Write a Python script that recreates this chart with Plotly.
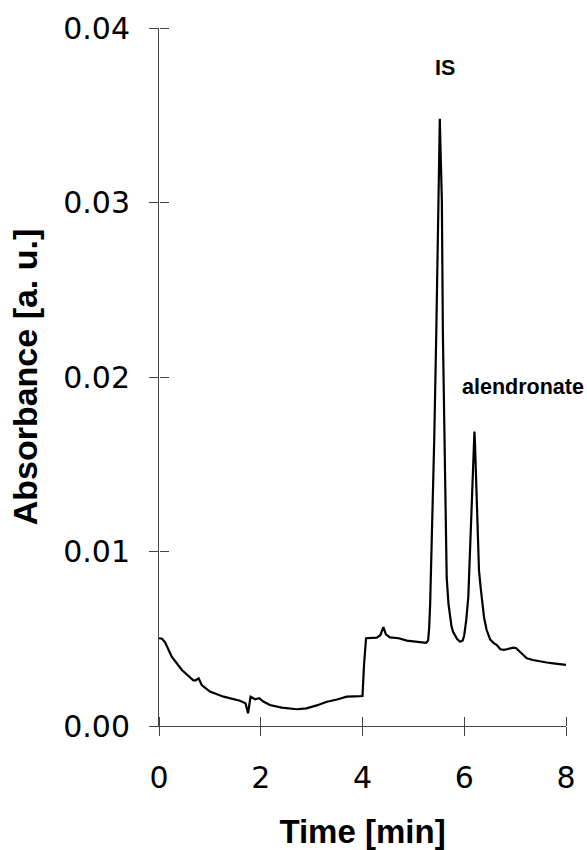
import plotly.graph_objects as go

# Chromatogram trace (time in min, absorbance in a.u.)
time_min = [0.00, 0.06, 0.12, 0.25, 0.45, 0.60, 0.675, 0.72, 0.78, 0.84, 1.00, 1.27, 1.59, 1.70,
            1.75, 1.80, 1.85, 1.89, 1.97, 2.05, 2.18, 2.41, 2.71, 2.90, 3.10, 3.30, 3.50, 3.69, 3.85, 4.00,
            4.03, 4.07, 4.28, 4.35, 4.41, 4.46, 4.54, 4.71, 4.87, 5.05, 5.25,
            5.29, 5.31, 5.33, 5.36, 5.41, 5.45, 5.49, 5.51, 5.52, 5.53, 5.56, 5.58, 5.61, 5.63, 5.655,
            5.69, 5.72, 5.75, 5.78, 5.82, 5.86, 5.92,
            5.97, 6.00, 6.04, 6.08, 6.13, 6.17, 6.19, 6.20, 6.21, 6.23, 6.26, 6.29, 6.32, 6.35, 6.39,
            6.44, 6.51, 6.58, 6.64, 6.71, 6.78, 6.84, 6.90,
            6.97, 7.02, 7.06, 7.14, 7.23, 7.35, 7.49, 7.62, 7.75, 7.88, 8.00]
absorbance = [0.00503, 0.00500, 0.00480, 0.00397, 0.00321, 0.00285, 0.00262, 0.00262, 0.00273, 0.00235, 0.00197,
              0.00168, 0.00145, 0.00130,
              0.00073, 0.00168, 0.00160, 0.00153, 0.00159, 0.00140, 0.00120, 0.00105, 0.00096, 0.00101, 0.00118,
              0.00139, 0.00152, 0.00168, 0.00170, 0.00172,
              0.00350, 0.00503, 0.00506, 0.00520, 0.00566, 0.00525, 0.00508, 0.00503, 0.00489, 0.00485, 0.00477,
              0.00490, 0.00560, 0.00700, 0.01010, 0.01640, 0.02250, 0.03010, 0.03350, 0.03480, 0.03350, 0.03010,
              0.02250, 0.01580, 0.01150, 0.00850,
              0.00700, 0.00620, 0.00570, 0.00540, 0.00515, 0.00498, 0.00483,
              0.00490, 0.00520, 0.00610, 0.00740, 0.01120, 0.01470, 0.01630, 0.01687, 0.01630, 0.01470, 0.01120,
              0.00890, 0.00800, 0.00720, 0.00620,
              0.00550, 0.00495, 0.00475, 0.00464, 0.00440, 0.00436, 0.00440, 0.00445,
              0.00449, 0.00446, 0.00435, 0.00410, 0.00388, 0.00378, 0.00369, 0.00364, 0.00359, 0.00355, 0.00350]

x_ticks = [0, 2, 4, 6, 8]
y_ticks = [0.00, 0.01, 0.02, 0.03, 0.04]

peak_labels = ["IS", "alendronate"]
peak_label_x = [5.62, 7.15]
peak_label_y = [0.0377, 0.0194]

fig = go.Figure()
fig.add_trace(go.Scatter(x=time_min, y=absorbance, mode="lines",
                         line=dict(color="black", width=2.2), showlegend=False, hoverinfo="skip"))
# invisible helper traces on overlay axes so the inner half of each crossing tick is drawn
fig.add_trace(go.Scatter(x=time_min, y=absorbance, mode="lines", xaxis="x2", yaxis="y",
                         line=dict(color="rgba(0,0,0,0)", width=1), showlegend=False, hoverinfo="skip"))
fig.add_trace(go.Scatter(x=time_min, y=absorbance, mode="lines", xaxis="x", yaxis="y2",
                         line=dict(color="rgba(0,0,0,0)", width=1), showlegend=False, hoverinfo="skip"))

tick_font = dict(family="DejaVu Sans", size=30, color="black")
axcol = "#444444"

fig.update_layout(
    width=587, height=850,
    margin=dict(l=159, r=21, t=28, b=124),
    paper_bgcolor="white", plot_bgcolor="white",
    xaxis=dict(range=[0, 8], tickvals=x_ticks, ticktext=[str(v) for v in x_ticks],
               ticks="outside", ticklen=9, tickwidth=1, tickcolor=axcol, automargin=False,
               showline=True, linecolor=axcol, linewidth=1, showgrid=False, zeroline=False,
               tickfont=tick_font, ticklabelstandoff=16,
               title=dict(text="<b>Time [min]</b>", font=dict(family="Liberation Sans", size=33, color="black"),
                          standoff=28)),
    yaxis=dict(range=[0, 0.04], tickvals=y_ticks, ticktext=[f"{v:.2f}" for v in y_ticks],
               ticks="outside", ticklen=9, tickwidth=1, tickcolor=axcol, automargin=False,
               showline=True, linecolor=axcol, linewidth=1, showgrid=False, zeroline=False,
               tickfont=tick_font, ticklabelstandoff=13,
               title=dict(text="<b>Absorbance [a. u.]</b>", font=dict(family="Liberation Sans", size=34, color="black"),
                          standoff=15)),
    xaxis2=dict(range=[0, 8], tickvals=x_ticks, overlaying="x", anchor="free", position=0, side="top",
                ticks="outside", ticklen=9, tickwidth=1, tickcolor=axcol, automargin=False,
                showticklabels=False, showline=False, showgrid=False, zeroline=False),
    yaxis2=dict(range=[0, 0.04], tickvals=y_ticks, overlaying="y", anchor="free", position=0, side="right",
                ticks="outside", ticklen=9, tickwidth=1, tickcolor=axcol, automargin=False,
                showticklabels=False, showline=False, showgrid=False, zeroline=False),
)

for txt, xx, yy in zip(peak_labels, peak_label_x, peak_label_y):
    fig.add_annotation(x=xx, y=yy, xref="x", yref="y", text=f"<b>{txt}</b>", showarrow=False,
                       font=dict(family="Liberation Sans", size=21.5, color="black"))

fig.write_html("out.html")
